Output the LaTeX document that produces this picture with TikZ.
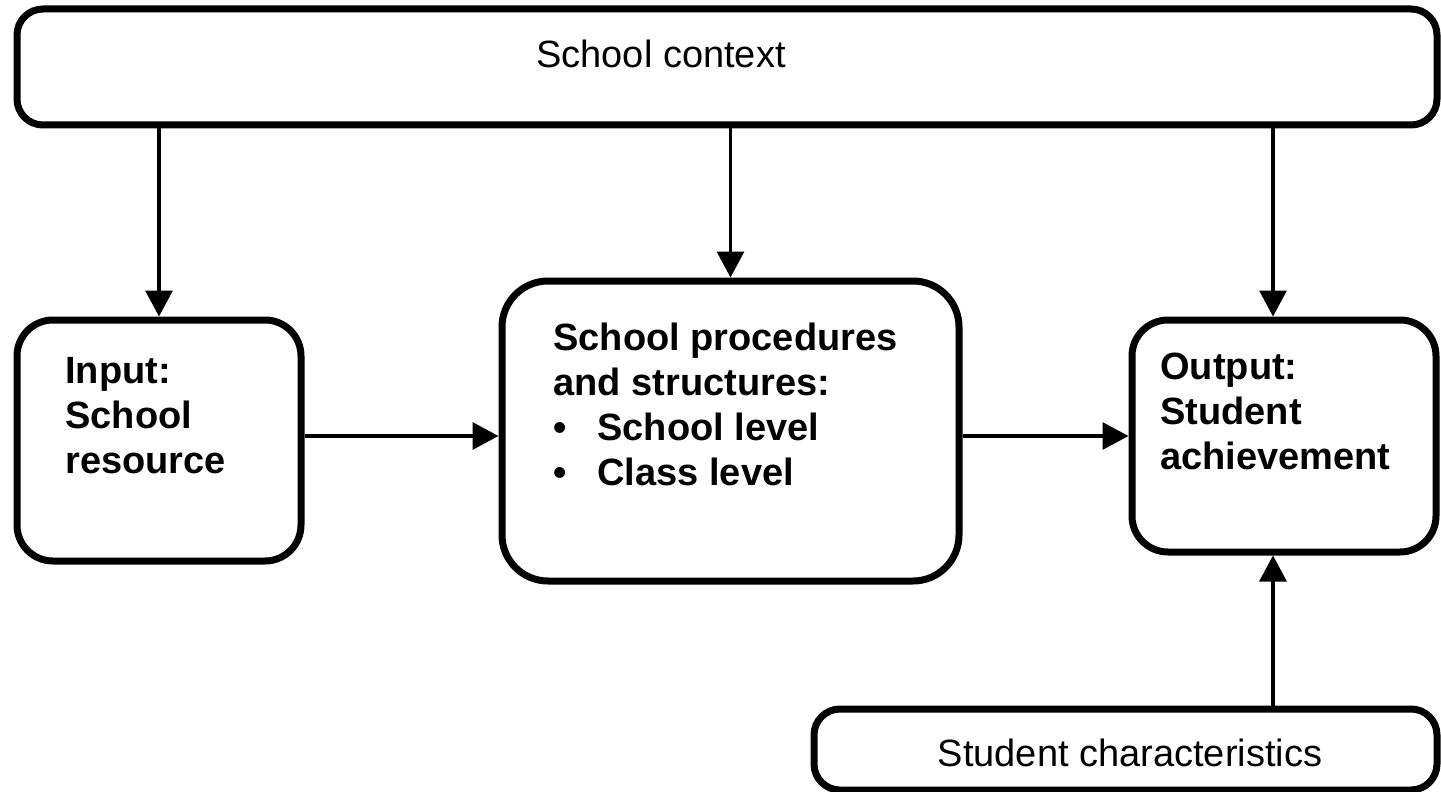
\documentclass[tikz,border=0pt]{standalone}
\usepackage{fontspec}
\setmainfont{Liberation Sans}
\usetikzlibrary{arrows.meta}
\begin{document}
\begin{tikzpicture}[x=0.5pt,y=-0.5pt,
  box/.style={draw, line width=3.5pt, rounded corners=#1, inner sep=0pt},
  box/.default=14pt,
  arr/.style={line width=1.6pt, -{Triangle[length=13pt,width=13.5pt]}},
  txt/.style={font=\fontsize{19}{22.5}\selectfont, inner sep=0pt, align=left},
  btxt/.style={font=\bfseries\fontsize{19}{22.5}\selectfont, inner sep=0pt, align=left}]
\useasboundingbox (0,0) rectangle (1441,792);
\node[box=13pt, minimum width=710pt, minimum height=58pt] (ctx) at (727,67) {};
\node[box=18pt, minimum width=142pt, minimum height=120.5pt] (inp) at (159,440.5) {};
\node[box=23pt, minimum width=228.5pt, minimum height=150pt] (proc) at (730.5,431) {};
\node[box=18pt, minimum width=152pt, minimum height=116pt] (out) at (1284,436) {};
\node[box=13pt, minimum width=311.5pt, minimum height=40.5pt] (stu) at (1125.5,749.5) {};
% texts (base anchor = baseline of last line)
\node[txt, anchor=base] (ctxt) at (661,68) {School context};
\node[btxt, anchor=base west] (inpt) at (65,473) {Input:\\School\\resource};
\node[btxt, anchor=base west] (proct) at (553,485) {School procedures\\and structures:\\\makebox[22pt][l]{•}School level\\\makebox[22pt][l]{•}Class level};
\node[btxt, anchor=base west] (outt) at (1160,469) {Output:\\Student\\achievement};
\node[txt, anchor=base] (stut) at (1130,766) {Student characteristics};
% connectors
\coordinate (oc) at ([xshift=-5.5pt]out.north);
\coordinate (os) at ([xshift=-5.5pt]out.south);
\draw[arr] (inp.north |- ctx.south) -- (inp.north);
\draw[arr] (proc.north |- ctx.south) -- (proc.north);
\draw[arr] (oc |- ctx.south) -- (oc);
\draw[arr] (os |- stu.north) -- (os);
\draw[arr] (inp.east |- out.center) -- (proc.west |- out.center);
\draw[arr] (proc.east |- out.center) -- (out.west);
\end{tikzpicture}
\end{document}
